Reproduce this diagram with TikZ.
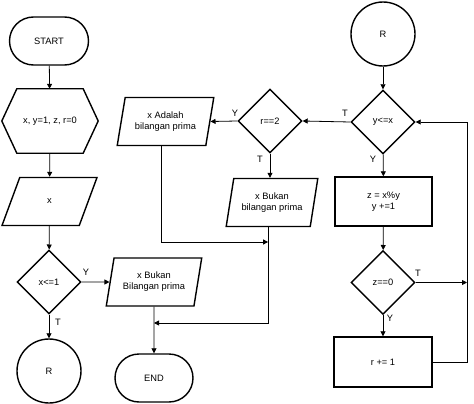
\documentclass[tikz,border=0pt]{standalone}
\usepackage{fontspec}
\setmainfont{Liberation Sans}
\usetikzlibrary{shapes.geometric,shapes.misc,arrows.meta}
\begin{document}
\begin{tikzpicture}[x=1pt,y=1pt,
  every node/.style={font=\fontsize{9.3}{11}\selectfont, align=center, inner sep=1pt},
  shp/.style={draw, line width=1.4pt},
  term/.style={shp, rounded rectangle, minimum width=81pt, minimum height=48pt},
  circ/.style={shp, circle, minimum size=64pt},
  dec/.style={shp, diamond, aspect=1, minimum width=64pt, minimum height=64pt},
  proc/.style={shp, rectangle, minimum width=97pt, minimum height=49pt},
  io/.style={shp, trapezium, trapezium left angle=74, trapezium right angle=106, trapezium stretches=true, minimum height=48pt},
  conn/.style={line width=0.8pt, -{Triangle[length=5pt,width=5pt]}},
  line/.style={line width=0.8pt},
  lbl/.style={inner sep=0pt}
]
\useasboundingbox (0,0) rectangle (474,-404);
% left column
\node[term] (start) at (49,-41) {START};
\node[minimum width=96pt, minimum height=64pt] (init) at (50,-121) {x, y=1, z, r=0};
\draw[shp] (init.west) -- ([xshift=15pt]init.north west) -- ([xshift=-15pt]init.north east) -- (init.east) -- ([xshift=-15pt]init.south east) -- ([xshift=15pt]init.south west) -- cycle;
\node[io, minimum width=95pt] (inx) at (49.5,-201.5) {x};
\node[dec] (d1) at (49,-282) {x<=1};
\node[circ] (r1) at (49,-371) {R};
\node[io, minimum width=96pt] (out1) at (154,-282) {x Bukan\\Bilangan prima};
\node[term, minimum width=80pt] (end) at (154,-378) {END};
% right part
\node[circ] (r2) at (383,-34) {R};
\node[dec] (d2) at (383,-122) {y<=x};
\node[dec] (d3) at (270,-121) {r==2};
\node[io, minimum width=97pt] (out2) at (165.5,-121.5) {x Adalah\\bilangan prima};
\node[io, minimum width=92pt] (out3) at (272,-202.5) {x Bukan\\bilangan prima};
\node[proc] (box1) at (383.5,-201.5) {z = x\%y\\y +=1};
\node[dec] (d4) at (383,-282.5) {z==0};
\node[proc, minimum width=98pt, minimum height=50pt] (box2) at (383,-362) {r += 1};
\coordinate (rx) at (467,0);
\coordinate (j1) at (154,-323);
\coordinate (j2y) at (0,-242);
% connectors
\draw[conn] (start) -- (init);
\draw[conn] (init) -- (inx);
\draw[conn] (inx) -- (d1);
\draw[conn] (d1) -- (r1);
\draw[conn] (d1.east) -- (out1.180);
\draw[conn] (out1) -- (end);
\draw[conn] (out3.bottom side) |- (j1);
\draw[conn] (out2.bottom side) |- (out3.bottom side |- j2y);
\draw[conn] (r2) -- (d2);
\draw[conn] (d2.west) -- (d3.east);
\draw[conn] (d3.west) -- (out2.0);
\draw[conn] (d3.south) -- (d3.south |- out3.north);
\draw[conn] (d2) -- (box1);
\draw[conn] (box1) -- (d4);
\draw[conn] (d4) -- (box2);
\draw[conn] (d4.east) -- (d4.east -| rx);
\draw[conn] (box2.east) -- (box2.east -| rx) |- (d2.east);
% labels
\node[lbl] (l1) at (58,-322) {T};
\node[lbl] (l2) at (86,-272) {Y};
\node[lbl] (l3) at (345,-113) {T};
\node[lbl] (l4) at (235,-113) {Y};
\node[lbl] (l5) at (260,-159) {T};
\node[lbl] (l6) at (373,-159) {Y};
\node[lbl] (l7) at (418,-273) {T};
\node[lbl] (l8) at (390,-318) {Y};
\end{tikzpicture}
\end{document}
